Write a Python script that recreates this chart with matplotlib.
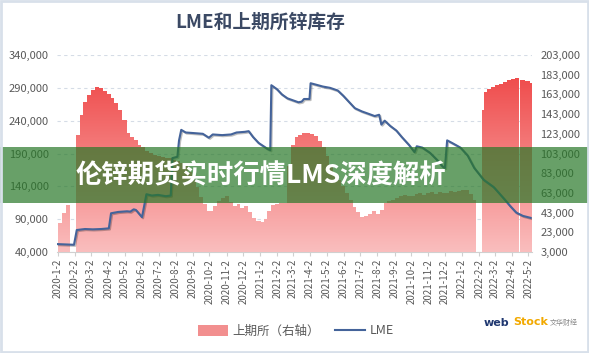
import numpy as np
import pandas as pd
import matplotlib
matplotlib.use("Agg")
import matplotlib.pyplot as plt
import matplotlib.dates as mdates
from matplotlib.patches import Rectangle, Patch
from matplotlib.lines import Line2D
from matplotlib.path import Path
from matplotlib.ticker import FuncFormatter, FixedLocator
import matplotlib.patheffects as pe

plt.rcParams['font.family'] = ['Noto Sans CJK SC', 'DejaVu Sans']

title = "LME和上期所锌库存"
banner = "伦锌期货实时行情LMS深度解析"
shfe_label = "上期所（右轴）"
lme_label = "LME"

# SHFE zinc inventory (right axis); None marks holiday gaps
shfe_dates = [
    "2020-01-02", "2020-01-10", "2020-01-17", "2020-01-23", "2020-01-24",
    "2020-02-03", "2020-02-10", "2020-02-17", "2020-02-24", "2020-03-02",
    "2020-03-09", "2020-03-16", "2020-03-23", "2020-03-30", "2020-04-07",
    "2020-04-13", "2020-04-20", "2020-04-27", "2020-05-06", "2020-05-11",
    "2020-05-18", "2020-05-25", "2020-06-01", "2020-06-08", "2020-06-15",
    "2020-06-22", "2020-06-29", "2020-07-06", "2020-07-13", "2020-07-20",
    "2020-07-27", "2020-08-03", "2020-08-10", "2020-08-17", "2020-08-24",
    "2020-08-31", "2020-09-07", "2020-09-14", "2020-09-21", "2020-09-28",
    "2020-10-09", "2020-10-16", "2020-10-23", "2020-10-30", "2020-11-06",
    "2020-11-13", "2020-11-20", "2020-11-27", "2020-12-04", "2020-12-11",
    "2020-12-18", "2020-12-25", "2021-01-04", "2021-01-08", "2021-01-15",
    "2021-01-22", "2021-01-29", "2021-02-05", "2021-02-19", "2021-02-26",
    "2021-03-05", "2021-03-12", "2021-03-19", "2021-03-26", "2021-04-02",
    "2021-04-09", "2021-04-16", "2021-04-23", "2021-04-30", "2021-05-07",
    "2021-05-14", "2021-05-21", "2021-05-28", "2021-06-04", "2021-06-11",
    "2021-06-18", "2021-06-25", "2021-07-02", "2021-07-09", "2021-07-16",
    "2021-07-23", "2021-07-30", "2021-08-06", "2021-08-13", "2021-08-20",
    "2021-08-27", "2021-09-03", "2021-09-10", "2021-09-17", "2021-09-24",
    "2021-10-08", "2021-10-15", "2021-10-22", "2021-10-29", "2021-11-05",
    "2021-11-12", "2021-11-19", "2021-11-26", "2021-12-03", "2021-12-10",
    "2021-12-17", "2021-12-24", "2021-12-31", "2022-01-07", "2022-01-14",
    "2022-01-21", "2022-01-28", "2022-01-29",
    "2022-02-07", "2022-02-10", "2022-02-17", "2022-02-24", "2022-03-03",
    "2022-03-10", "2022-03-17", "2022-03-24", "2022-03-31", "2022-04-07",
    "2022-04-13", "2022-04-15", "2022-04-16",
    "2022-04-17", "2022-04-26", "2022-05-05", "2022-05-08",
]
shfe_values = [
    32700, 42600, 50700, 50700, None,
    121800, 142000, 155000, 162400, 167000,
    170800, 169500, 166000, 163000, 159000,
    154000, 147000, 137000, 124000, 120000,
    116700, 112000, 109600, 106000, 103500,
    101500, 100000, 99400, 98500, 98000,
    96000, 95000, 93000, 90000, 84000,
    76000, 69000, 59000, 52000, 45000,
    50000, 55000, 58000, 60000, 54000,
    50000, 52000, 48000, 50000, 44000,
    38000, 34000, 33000, 37000, 45000,
    51000, 52000, 53000, 90000, 112000,
    120000, 122000, 124000, 124000, 123000,
    121000, 116000, 110000, 100000, 89000,
    82000, 76000, 70000, 63000, 56000,
    49000, 44000, 39000, 40000, 42000,
    45000, 42000, 46000, 53000, 55000,
    56000, 58000, 60000, 61000, 60000,
    62000, 63000, 61000, 63000, 64000,
    62000, 64000, 63000, 63000, 65000,
    64000, 65000, 66000, 66000, 62000,
    56000, 50000, None,
    147000, 165000, 168000, 171000, 172500,
    174000, 176000, 177500, 178500, 179500,
    180000, 180000, None,
    177600, 176500, 174500, 174000,
]

# LME zinc inventory (left axis)
lme_dates = [
    "2020-01-02", "2020-01-31", "2020-02-05", "2020-02-20", "2020-03-05",
    "2020-03-20", "2020-04-03", "2020-04-07", "2020-04-20", "2020-05-06",
    "2020-05-12", "2020-05-18", "2020-05-22", "2020-06-02", "2020-06-10",
    "2020-06-20", "2020-07-01", "2020-07-15", "2020-07-24", "2020-07-27",
    "2020-08-05", "2020-08-08", "2020-08-12", "2020-08-20", "2020-09-05",
    "2020-09-20", "2020-10-01", "2020-10-08", "2020-10-25", "2020-11-10",
    "2020-11-20", "2020-12-05", "2020-12-12", "2020-12-20", "2020-12-30",
    "2021-01-08", "2021-01-15", "2021-01-20", "2021-01-22", "2021-02-01",
    "2021-02-10", "2021-02-20", "2021-03-02", "2021-03-12", "2021-03-18",
    "2021-03-22", "2021-04-01", "2021-04-03", "2021-04-12", "2021-04-25",
    "2021-05-08", "2021-05-15", "2021-05-22", "2021-06-01", "2021-06-12",
    "2021-06-22", "2021-07-05", "2021-07-15", "2021-07-28", "2021-08-05",
    "2021-08-09", "2021-08-15", "2021-08-25", "2021-09-05", "2021-09-15",
    "2021-09-28", "2021-10-08", "2021-10-12", "2021-10-22", "2021-11-05",
    "2021-11-18", "2021-11-28", "2021-12-02", "2021-12-06", "2021-12-15",
    "2021-12-30", "2022-01-12", "2022-01-24", "2022-02-10", "2022-02-28",
    "2022-03-20", "2022-03-30", "2022-04-10", "2022-04-22", "2022-05-06",
]
lme_values = [
    52000, 51000, 73500, 75000, 74500,
    75000, 76000, 99000, 101000, 102000,
    101500, 105000, 104000, 93000, 128000,
    126000, 127000, 125000, 126000, 183000,
    185000, 210000, 226000, 222000, 221000,
    220000, 214000, 219000, 218000, 219000,
    222000, 223000, 224000, 215000, 206000,
    201000, 197000, 195000, 294000, 288000,
    280000, 274000, 271000, 268000, 269000,
    273000, 273000, 297000, 295000, 292000,
    290000, 288000, 286000, 278000, 268000,
    259000, 254000, 251000, 247000, 249000,
    234000, 240000, 232000, 225000, 215000,
    203000, 192000, 201000, 199000, 191000,
    180000, 170000, 168000, 210000, 206000,
    199000, 187000, 168000, 150000, 139000,
    120000, 110000, 100000, 95000, 92000,
]

left_ticks = [40000, 90000, 140000, 190000, 240000, 290000, 340000]
right_ticks = [3000, 23000, 43000, 63000, 83000, 103000, 123000, 143000,
               163000, 183000, 203000]

W, H = 589, 353
fig = plt.figure(figsize=(W / 100, H / 100), dpi=100)
fig.patch.set_facecolor("white")

ax = fig.add_axes([57 / W, (H - 252) / H, (532 - 57) / W, (252 - 55) / H])
ax2 = ax.twinx()

sd = pd.to_datetime(shfe_dates)
sv = np.array([np.nan if v is None else v for v in shfe_values], dtype=float)
ld = pd.to_datetime(lme_dates)
lv = np.array(lme_values, dtype=float)

xmin = mdates.date2num(pd.Timestamp("2019-12-31 06:00"))
xmax = mdates.date2num(pd.Timestamp("2022-05-08 12:00"))

# left axis: grid only
ax.set_ylim(left_ticks[0], left_ticks[-1])
ax.set_xlim(xmin, xmax)
ax.yaxis.set_major_locator(FixedLocator(left_ticks))
ax.yaxis.set_major_formatter(FuncFormatter(lambda v, p: f"{v:,.0f}"))
ax.grid(axis="y", color="#d5dce6", linestyle=(0, (3, 3)), linewidth=0.8)
ax.set_axisbelow(True)

# right axis: SHFE gradient area
ax2.set_ylim(right_ticks[0], right_ticks[-1])
ax2.set_xlim(xmin, xmax)
xnum = mdates.date2num(sd)
poly = ax2.fill_between(xnum, right_ticks[0], sv, step="post",
                        facecolor="none", edgecolor="none", linewidth=0)
paths = poly.get_paths()
compound = Path.make_compound_path(*paths)
grad = np.linspace(0, 1, 256).reshape(-1, 1)
top_c = np.array([238, 62, 62]) / 255
bot_c = np.array([250, 190, 190]) / 255
img = top_c[None, None, :] * (1 - grad[:, :, None]) + bot_c[None, None, :] * grad[:, :, None]
im = ax2.imshow(img, extent=[xmin, xmax, right_ticks[0], right_ticks[-1]],
                aspect="auto", origin="upper", zorder=1, interpolation="bilinear")
im.set_clip_path(compound, transform=ax2.transData)
ax2.set_xlim(xmin, xmax)
ax2.set_ylim(right_ticks[0], right_ticks[-1])
ax2.yaxis.set_major_locator(FixedLocator(right_ticks))
ax2.yaxis.set_major_formatter(FuncFormatter(lambda v, p: f"{v:,.0f}"))

# LME line drawn on top, in left-axis coordinates
lme_color = "#44639a"
ax2.plot(mdates.date2num(ld), lv, color=lme_color, linewidth=1.5,
         transform=ax.transData, zorder=3,
         path_effects=[pe.SimpleLineShadow(offset=(0.8, -0.8), alpha=0.25),
                       pe.Normal()])
ax2.set_ylim(right_ticks[0], right_ticks[-1])

# x ticks: the 2nd of every month
tick_dates = pd.date_range("2020-01-01", "2022-05-01", freq="MS") + pd.Timedelta(days=1)
ax.set_xticks(mdates.date2num(tick_dates))
ax.set_xticklabels([f"{d.year}-{d.month}-{d.day}" for d in tick_dates],
                   rotation=90, fontsize=7, color="#595959")
ax.set_xlim(xmin, xmax)
ax2.set_xlim(xmin, xmax)

tick_color = "#595959"
ax.tick_params(axis="y", length=0, pad=6, labelsize=8, labelcolor=tick_color)
ax2.tick_params(axis="y", length=0, pad=6, labelsize=8, labelcolor=tick_color)
ax.tick_params(axis="x", length=3, color="#d0d0d0", pad=2)
ax2.tick_params(axis="x", length=0)
for a in (ax, ax2):
    for s in ("top", "left", "right"):
        a.spines[s].set_visible(False)
    a.spines["bottom"].set_color("#d0d0d0")
ax2.spines["bottom"].set_visible(False)

# title
fig.text(260 / W, 1 - 22 / H, title, ha="center", va="center",
         fontsize=13.5, fontweight="bold", color="#3b4964")

# legend
handles = [Patch(facecolor="#f28f8f", edgecolor="none"),
           Line2D([0], [0], color=lme_color, linewidth=1.5)]
fig.legend(handles, [shfe_label, lme_label], loc="center",
           bbox_to_anchor=(296 / W, 1 - 331 / H), ncol=2, frameon=False,
           fontsize=9, labelcolor="#595959", handlelength=2.4,
           handleheight=1.0, columnspacing=1.2, handletextpad=0.4)

# watermark
fig.text(484 / W, 1 - 323 / H, "web", fontsize=8, fontweight="bold",
         color="#1f3770", va="center", ha="left", family="DejaVu Sans")
fig.text(513 / W, 1 - 322 / H, "Stock", fontsize=8, fontweight="bold",
         color="#f2a900", va="center", ha="left", family="DejaVu Sans")
fig.text(550 / W, 1 - 323 / H, "文华财经", fontsize=5, color="#888888",
         va="center", ha="left")

# green banner overlay
fig.add_artist(Rectangle((0, 1 - 203 / H), 1, 56 / H, transform=fig.transFigure,
                         facecolor=(40 / 255, 120 / 255, 40 / 255), alpha=0.7,
                         edgecolor="none", zorder=10))
fig.text(261 / W, 1 - 176 / H, banner, ha="center", va="center",
         fontsize=19, fontweight="bold", color="white", zorder=11)

# outer frame
fig.add_artist(Rectangle((0.002, 0.003), 0.996, 0.994, transform=fig.transFigure,
                         facecolor="none", edgecolor="#d8e0ea", linewidth=2,
                         zorder=12))

fig.savefig("out.png", dpi=100, facecolor="white")
